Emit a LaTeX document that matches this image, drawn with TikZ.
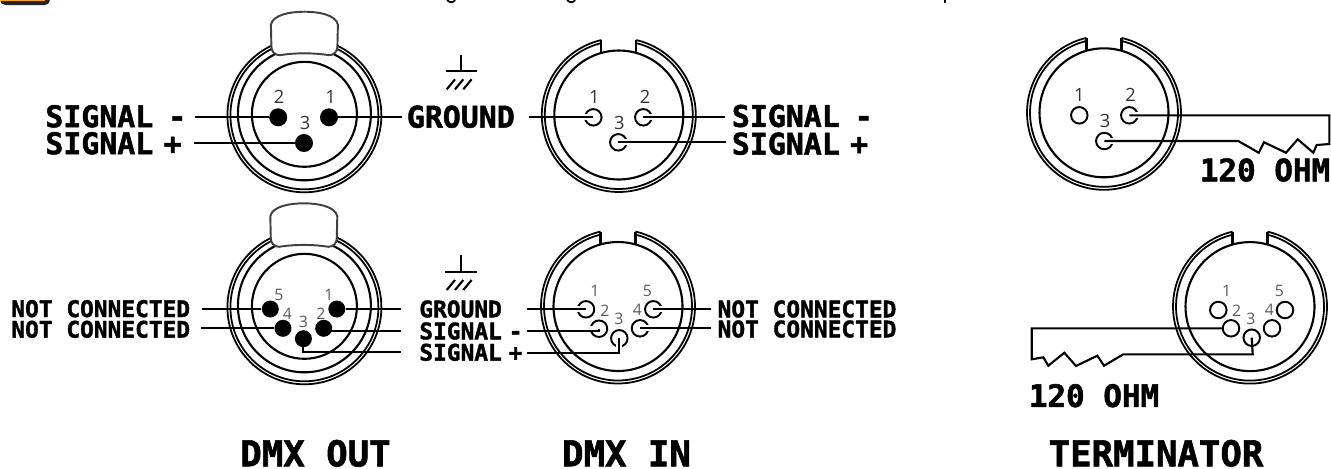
\documentclass[tikz,border=0pt]{standalone}
\usepackage{fontspec}
\setmainfont{Open Sans}
\newfontfamily\blockfont[FakeBold=1.6]{DejaVu Sans Mono Bold}
\definecolor{boxnavy}{HTML}{1A2233}
\definecolor{boxorange}{HTML}{F5A623}
\tikzset{
  thinline/.style={line width=1pt},
  wire/.style={line width=1.2pt},
  pinfull/.style={circle,fill=black,inner sep=0pt,minimum size=0.36cm},
  pinfullsmall/.style={circle,fill=black,inner sep=0pt,minimum size=0.34cm},
  pinhole/.style={circle,draw,line width=1.1pt,inner sep=0pt,minimum size=0.33cm},
  pingap/.style={draw=white,line width=3.4pt},
  numbig/.style={inner sep=0pt,font=\fontsize{10.4}{10.4}\selectfont,text=black!80},
  numsmall/.style={inner sep=0pt,font=\fontsize{9}{9}\selectfont,text=black!65},
  labelbig/.style={anchor=west,inner sep=0pt,font=\blockfont\fontsize{17}{17}\selectfont},
  labelsmall/.style={anchor=west,inner sep=0pt,font=\blockfont\fontsize{13}{13}\selectfont},
  labelohm/.style={anchor=west,inner sep=0pt,font=\blockfont\fontsize{17.6}{17.6}\selectfont},
  titlelabel/.style={inner sep=0pt,font=\blockfont\fontsize{20.3}{20.3}\selectfont},
  tabshape/.style={draw=black!75,line width=1.1pt,fill=white}
}
% round body with the key, one arg: the centre
\newcommand{\shellin}[1]{
  \draw [thinline] (#1) ++(103.1:1.54cm) arc [start angle=103.1,end angle=436.9,radius=1.54cm];
  \draw [thinline] (#1) ++(103.7:1.48cm) arc [start angle=103.7,end angle=436.3,radius=1.48cm];
  \draw [wire] (#1) ++(-0.35cm,1.5cm) -- ++(0,-0.26cm);
  \draw [wire] (#1) ++(0.35cm,1.5cm) -- ++(0,-0.26cm);
  \draw [wire] (#1) circle [radius=1.29cm];
}
% round body with the lug, two args: the centre and the top of the lug
\newcommand{\shellout}[2]{
  \draw [thinline] (#1) circle [radius=1.54cm];
  \draw [thinline] (#1) circle [radius=1.48cm];
  \draw [wire] (#1) ++(0,0.03cm) circle [radius=1.33cm];
  \draw [wire] (#1) ++(0,0.02cm) circle [radius=1.05cm];
  \begin{scope}[shift={(#2)}]
    \draw [tabshape] (-33.5,13) .. controls (-31.5,3) and (-14,0) .. (0,0) .. controls (14,0) and (31.5,3) .. (33.5,13) -- (33,35) .. controls (33,40) and (29.5,43.5) .. (24.5,43.5) .. controls (10,41) and (-10,41) .. (-24.5,43.5) .. controls (-29.5,43.5) and (-33,40) .. (-33,35) -- cycle;
  \end{scope}
}
\begin{document}
\begin{tikzpicture}[x=0.02cm,y=-0.02cm]
    \useasboundingbox (0,0) rectangle (1331,468);
    % what is left of the page above
    \fill [boxnavy,rounded corners=3pt] (0,-8) rectangle (50,5);
    \fill [boxorange] (0,-8) rectangle (45,1);
    \draw [line width=1pt] (447,0) .. controls (450,3) and (453,3) .. (455,0);
    \draw [line width=1pt] (567,0) .. controls (570,3) and (573,3) .. (575,0);
    \draw [line width=1pt] (945,0) -- (945,3);

    \coordinate (co1) at (304.4,115.3);
    \coordinate (lug1) at (304.4,11.7);
    \coordinate (ci1) at (618.8,115);
    \coordinate (ct1) at (1104,112.8);
    \coordinate (co2) at (304.4,307.3);
    \coordinate (lug2) at (303.8,203.3);
    \coordinate (ci2) at (618,306.5);
    \coordinate (ct2) at (1250,306.6);
    \shellout{co1}{lug1}
    \shellin{ci1}
    \shellin{ct1}
    \shellout{co2}{lug2}
    \shellin{ci2}
    \shellin{ct2}

    % upper row, 3 pins
    \node [pinfull] (a1) at (329,117.3) {};
    \node [pinfull] (a2) at (278.2,117.3) {};
    \node [pinfull] (a3) at (304,143) {};
    \node [numbig] at (330.6,96.7) {1};
    \node [numbig] at (279,96.7) {2};
    \node [numbig] at (305,123.3) {3};
    \node [pinhole] (b1) at (593.3,117.3) {};
    \node [pinhole] (b2) at (643.3,117.3) {};
    \node [pinhole] (b3) at (618.3,142.3) {};
    \node [numbig] at (594.3,96.7) {1};
    \node [numbig] at (645,96.7) {2};
    \node [numbig] at (619.3,122.7) {3};
    \node [pinhole] (c1) at (1079.3,115.3) {};
    \node [pinhole] (c2) at (1129.3,115.3) {};
    \node [pinhole] (c3) at (1104.3,141) {};
    \node [numbig] at (1079.3,95) {1};
    \node [numbig] at (1130.7,95) {2};
    \node [numbig] at (1105,120.7) {3};

    \node [labelbig] (sm1) at (45,116.3) {SIGNAL\hspace{-.1em} -};
    \node [labelbig] (sp1) at (45,143.3) {SIGNAL\hspace{-.25em} +};
    \node [labelbig] (gnd1) at (406.5,116.7) {GROUND};
    \node [labelbig] (sm2) at (731.5,116) {SIGNAL\hspace{-.1em} -};
    \node [labelbig] (sp2) at (731.5,143.7) {SIGNAL\hspace{-.25em} +};
    \node [labelohm] (ohm1) at (1199.5,170) {120 OHM};

    \coordinate (wa2) at (195,117.3);
    \coordinate (wa3) at (194,143);
    \coordinate (wa1) at (402,117.3);
    \coordinate (wb1) at (528.6,117.3);
    \coordinate (wb2) at (725,117.3);
    \coordinate (wb3) at (726,142.3);
    \draw [wire] (wa2) -- (a2);
    \draw [wire] (wa3) -- (a3);
    \draw [wire] (a1) -- (wa1);
    \draw [pingap] (b1.center) -- (b1.west);
    \draw [pingap] (b2.center) -- (b2.east);
    \draw [pingap] (b3.center) -- (b3.east);
    \draw [wire] (wb1) -- (b1.center);
    \draw [wire] (b2.center) -- (wb2);
    \draw [wire] (b3.center) -- (wb3);
    \draw [pingap] (c2.center) -- (c2.east);
    \draw [pingap] (c3.center) -- (c3.east);
    \draw [wire] (c2.center) -- (1329.3,115.3) -- (1329.3,144) -- (1316.7,145) -- (1313.3,152.7) -- (1297.7,139.3) -- (1286,152.7) -- (1264,142.3) -- (1258.7,152.7) -- (1238.3,141) -- (c3.center);

    % lower row, 5 pins
    \node [pinfullsmall] (d1) at (336.8,309) {};
    \node [pinfullsmall] (d2) at (323.7,328.3) {};
    \node [pinfullsmall] (d3) at (303.4,338.7) {};
    \node [pinfullsmall] (d4) at (283,328.3) {};
    \node [pinfullsmall] (d5) at (270.3,309) {};
    \node [numsmall] at (329,295) {1};
    \node [numsmall] at (321,313.3) {2};
    \node [numsmall] at (303.4,322.3) {3};
    \node [numsmall] at (287.5,314.3) {4};
    \node [numsmall] at (279,295) {5};
    \node [pinhole] (e1) at (586,309.3) {};
    \node [pinhole] (e2) at (599,328.7) {};
    \node [pinhole] (e3) at (619.3,338.3) {};
    \node [pinhole] (e4) at (640,328.3) {};
    \node [pinhole] (e5) at (653.3,309.3) {};
    \node [numsmall] at (595,290.7) {1};
    \node [numsmall] at (605,310.7) {2};
    \node [numsmall] at (619,319.3) {3};
    \node [numsmall] at (637.3,310) {4};
    \node [numsmall] at (647.3,290.7) {5};
    \node [pinhole] (f1) at (1218.3,310) {};
    \node [pinhole] (f2) at (1231,328.3) {};
    \node [pinhole] (f3) at (1251.7,337.7) {};
    \node [pinhole] (f4) at (1272,328.3) {};
    \node [pinhole] (f5) at (1285,310) {};
    \node [numsmall] at (1226.7,290.7) {1};
    \node [numsmall] at (1236.7,311) {2};
    \node [numsmall] at (1251,319.3) {3};
    \node [numsmall] at (1269.3,310) {4};
    \node [numsmall] at (1279.3,290.7) {5};

    \node [labelsmall] (nc1) at (11,308.7) {NOT CONNECTED};
    \node [labelsmall] (nc2) at (11,329.3) {NOT CONNECTED};
    \node [labelsmall] (gnd2) at (419,309) {GROUND};
    \node [labelsmall] (sm3) at (419,331) {SIGNAL\hspace{-.3em} -};
    \node [labelsmall] (sp3) at (419,352.3) {SIGNAL\hspace{-.3em} +};
    \node [labelsmall] (nc3) at (717.3,309) {NOT CONNECTED};
    \node [labelsmall] (nc4) at (717.3,329) {NOT CONNECTED};
    \node [labelohm] (ohm2) at (1028.5,395.7) {120 OHM};

    \coordinate (wd5) at (202,309);
    \coordinate (wd4) at (200.8,328.3);
    \coordinate (wd1) at (401,309);
    \coordinate (wd2) at (401,331);
    \coordinate (wd3) at (401,352.3);
    \coordinate (we1) at (527.3,309.3);
    \coordinate (we2) at (527.3,330.7);
    \coordinate (we3) at (527.3,353);
    \coordinate (we5) at (710.7,309.3);
    \coordinate (we4) at (710.7,328.3);
    \draw [wire] (wd5) -- (d5);
    \draw [wire] (wd4) -- (d4);
    \draw [wire] (d1) -- (wd1);
    \draw [wire] (d2.center) |- (wd2);
    \draw [wire] (d3.center) |- (wd3);
    \draw [pingap] (e1.center) -- (e1.west);
    \draw [pingap] (e2.center) -- (e2.west);
    \draw [pingap] (e3.center) -- (e3.south);
    \draw [pingap] (e4.center) -- (e4.east);
    \draw [pingap] (e5.center) -- (e5.east);
    \draw [wire] (we1) -- (e1.center);
    \draw [wire] (we2) -- (e2.center |- we2) -- (e2.center);
    \draw [wire] (we3) -- (e3.center |- we3) -- (e3.center);
    \draw [wire] (e5.center) -- (we5);
    \draw [wire] (e4.center) -- (we4);
    \draw [wire] (f2.west) -- (1031.7,328.3) -- (1031.7,359.3) -- (1043.3,357.3) -- (1048.3,365.7) -- (1064.3,352.7) -- (1076,366) -- (1097.3,355.7) -- (1104,365.7) -- (1123.3,354.3) -- (1252.7,354.3) -- (f3.center);

    % ground signs
    \coordinate (gs1) at (460.7,55);
    \coordinate (gs2) at (460.7,255);
    \draw [line width=1pt] (gs1) -- ++(0,16.3);
    \draw [wire] (445.5,71.3) -- (477,71.3);
    \draw [line width=1.2pt] (446.7,89.3) -- ++(8.3,-10) (455,89.3) -- ++(8.3,-10) (463.3,89.3) -- ++(8.3,-10);
    \draw [line width=1pt] (gs2) -- ++(0,17);
    \draw [wire] (445,272) -- (477,272);
    \draw [line width=1.2pt] (446.7,290) -- ++(8.3,-10) (455,290) -- ++(8.3,-10) (463.3,290) -- ++(8.3,-10);

    \node [titlelabel] (out) at (315.5,453.3) {DMX OUT};
    \node [titlelabel] (in) at (626.5,453.3) {DMX IN};
    \node [titlelabel] (term) at (1156,453.3) {TERMINATOR};
\end{tikzpicture}
\end{document}
